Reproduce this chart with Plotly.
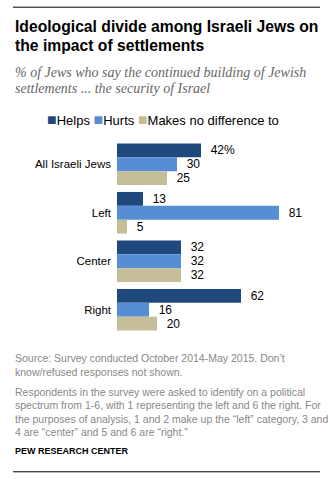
import plotly.graph_objects as go

categories = ["All Israeli Jews", "Left", "Center", "Right"]
series_names = ["Helps", "Hurts", "Makes no difference to"]
helps = [42, 13, 32, 62]
hurts = [30, 81, 32, 16]
no_diff = [25, 5, 32, 20]
colors = ["#1F497D", "#558ED5", "#C4BD97"]

title_lines = ["Ideological divide among Israeli Jews on", "the impact of settlements"]
subtitle_lines = ["% of Jews who say the continued building of Jewish",
                  "settlements ... the security of Israel"]
source_lines = ["Source: Survey conducted October 2014-May 2015. Don\u2019t",
                "know/refused responses not shown."]
note_lines = ["Respondents in the survey were asked to identify on a political",
              "spectrum from 1-6, with 1 representing the left and 6 the right. For",
              "the purposes of analysis, 1 and 2 make up the \u201cleft\u201d category, 3 and",
              "4 are \u201ccenter\u201d and 5 and 6 are \u201cright.\u201d"]
credit = "PEW RESEARCH CENTER"

W_FIG, H_FIG = 330, 481
L, R, T, B = 117, 13, 139.5, 146.5
PW, PH = W_FIG - L - R, H_FIG - T - B

def px(x):
    return (x - L) / PW

def py(y):
    return (T + PH - y) / PH

fig = go.Figure()
all_values = [helps, hurts, no_diff]
for si, (name, vals, col) in enumerate(zip(series_names, all_values, colors)):
    texts = []
    for ci, v in enumerate(vals):
        if si == 0 and ci == 0:
            texts.append(f"  {v}%")
        else:
            texts.append(f"  {v}")
    fig.add_trace(go.Bar(
        name=name, y=categories, x=vals, orientation="h",
        marker=dict(color=col, line=dict(width=0)),
        text=texts, textposition="outside", constraintext="none",
        cliponaxis=False,
        textfont=dict(family="Liberation Sans, Arial, sans-serif", size=12, color="#000"),
        hoverinfo="skip",
    ))

fig.update_layout(
    width=W_FIG, height=H_FIG,
    margin=dict(l=L, r=R, t=T, b=B, pad=0),
    paper_bgcolor="white", plot_bgcolor="white",
    barmode="group", bargap=7 / 49, bargroupgap=0,
    showlegend=False,
    xaxis=dict(range=[0, 100], visible=False, fixedrange=True),
    yaxis=dict(autorange="reversed", showgrid=False, zeroline=False, showline=False,
               ticks="", ticklabelstandoff=5,
               tickfont=dict(family="Liberation Sans, Arial, sans-serif", size=11.5, color="#000")),
    font=dict(family="Liberation Sans, Arial, sans-serif"),
)

ann = []
# title
for i, line in enumerate(title_lines):
    ann.append(dict(text=f"<b>{line}</b>", x=px(13), y=py(25 + i * 20), xanchor="left", yanchor="middle",
                    font=dict(family="Liberation Sans, Arial, sans-serif", size=15.7, color="#000")))
for i, line in enumerate(subtitle_lines):
    ann.append(dict(text=f"<i>{line}</i>", x=px(13), y=py(72 + i * 16), xanchor="left", yanchor="middle",
                    font=dict(family="Liberation Serif, serif", size=14, color="#666")))
# legend
leg = " ".join(f"<span style='color:{c};font-size:16px'>\u25a0</span>{n}" for n, c in zip(series_names, colors))
ann.append(dict(text=leg, x=px(45), y=py(119), xanchor="left", yanchor="middle",
                font=dict(family="Liberation Sans, Arial, sans-serif", size=13, color="#000")))
for i, line in enumerate(source_lines):
    ann.append(dict(text=line, x=px(13), y=py(359 + i * 13.3), xanchor="left", yanchor="middle",
                    font=dict(family="Liberation Sans, Arial, sans-serif", size=10.5, color="#888")))
for i, line in enumerate(note_lines):
    ann.append(dict(text=line, x=px(13), y=py(393 + i * 13.3), xanchor="left", yanchor="middle",
                    font=dict(family="Liberation Sans, Arial, sans-serif", size=10.5, color="#888")))
ann.append(dict(text=f"<b>{credit}</b>", x=px(13), y=py(452), xanchor="left", yanchor="middle",
                font=dict(family="Liberation Sans, Arial, sans-serif", size=9, color="#000")))
for a in ann:
    a.update(xref="paper", yref="paper", showarrow=False, align="left")
fig.update_layout(annotations=ann)

fig.update_layout(shapes=[
    dict(type="line", xref="paper", yref="paper", x0=px(13), x1=px(320), y0=py(6), y1=py(6),
         line=dict(color="#000", width=1)),
    dict(type="line", xref="paper", yref="paper", x0=px(13), x1=px(320), y0=py(473), y1=py(473),
         line=dict(color="#000", width=1)),
])

fig.write_html("out.html")
